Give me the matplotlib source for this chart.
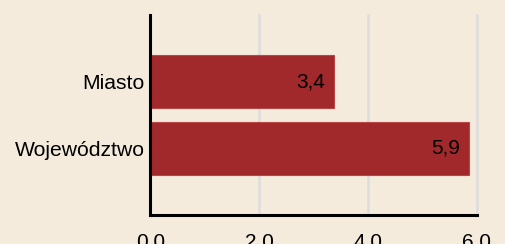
import matplotlib
matplotlib.use("Agg")
import matplotlib.pyplot as plt

categories = ["Miasto", "Województwo"]
values = [3.37, 5.86]
xticks = [0, 2, 4, 6]
xtick_labels = ["0,0", "2,0", "4,0", "6,0"]

plt.rcParams['font.family'] = ['Liberation Sans', 'DejaVu Sans']

bg = "#f5ebdd"
bar_color = "#a2292b"

fig = plt.figure(figsize=(5.06, 2.44), dpi=100, facecolor=bg)
ax = fig.add_axes([150.5/506, 1-215/244, (476.5-150.5)/506, (215-15)/244])
ax.set_facecolor(bg)

ypos = list(range(len(categories)))
bars = ax.barh(ypos, values, height=0.8, color=bar_color, edgecolor="#b84645", linewidth=0.8, zorder=2)
for y, v in zip(ypos, values):
    ax.text(v - 0.16, y, f"{v:.1f}".replace(".", ","), ha="right", va="center",
            fontsize=15, color="black", zorder=3)

ax.set_ylim(2, -1)
ax.set_xlim(0, 6)
ax.set_yticks(ypos)
ax.set_yticklabels(categories, fontsize=15.2)
ax.set_xticks(xticks)
ax.set_xticklabels(xtick_labels, fontsize=15)
ax.tick_params(axis='y', length=0, pad=4)
ax.tick_params(axis='x', length=0, pad=12.5)
ax.xaxis.grid(True, color="#dcdcdc", linewidth=1.8, zorder=0)
for gl in ax.get_xgridlines():
    gl.set_clip_on(False)
ax.set_axisbelow(True)
for s in ["top", "right"]:
    ax.spines[s].set_visible(False)
for s in ["left", "bottom"]:
    ax.spines[s].set_color("black")
    ax.spines[s].set_linewidth(2.2)

fig.savefig("out.png", dpi=100, facecolor=bg)
